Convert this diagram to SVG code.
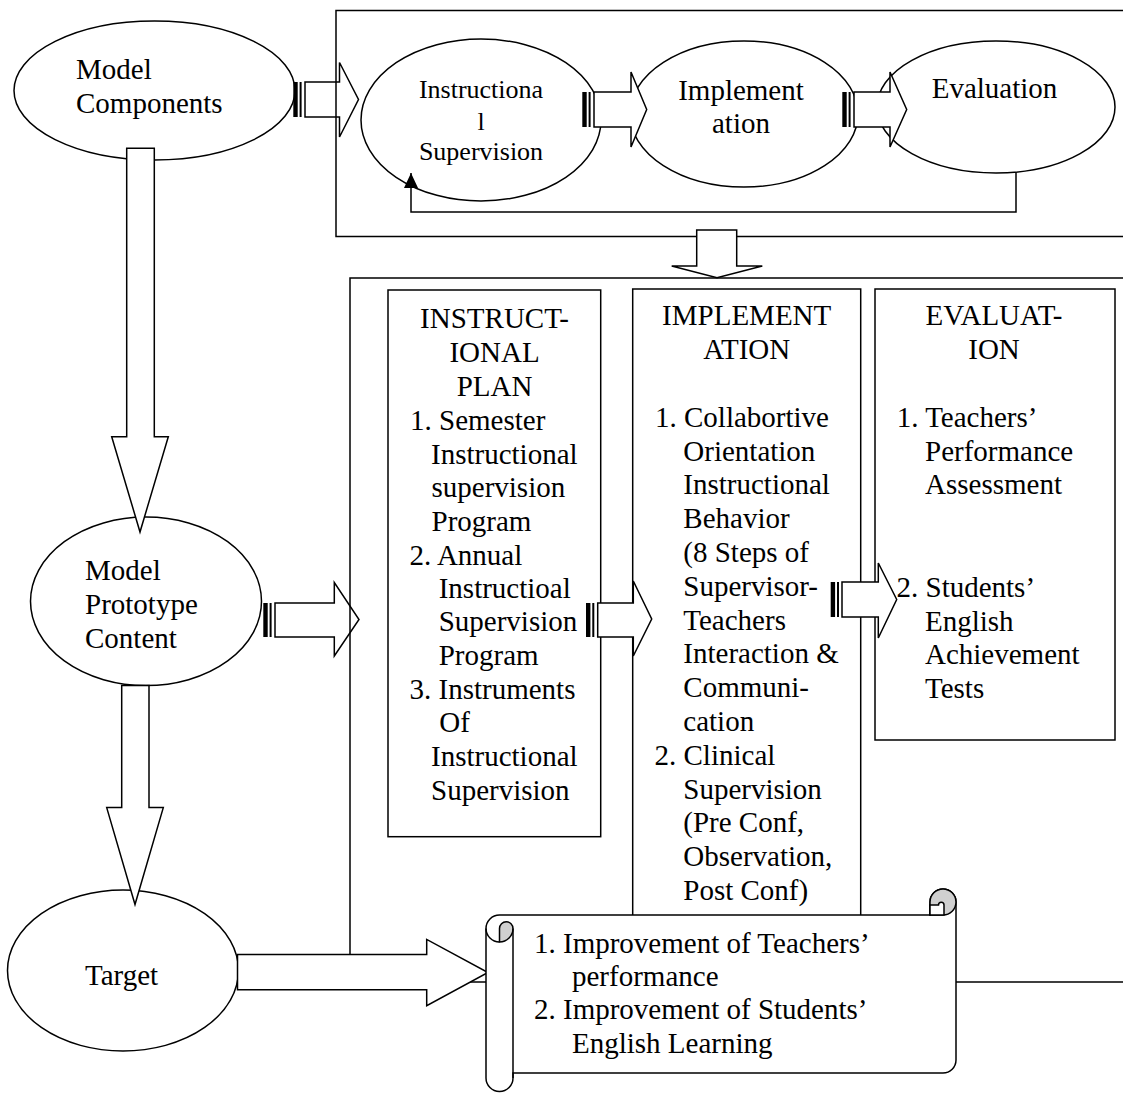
<svg xmlns="http://www.w3.org/2000/svg" width="1123" height="1094" viewBox="0 0 1123 1094">
<defs>
<style>
.shape{fill:#fff;stroke:#000;stroke-width:1.5}
.line{fill:none;stroke:#000;stroke-width:1.5}
.arrow{fill:#fff;stroke:#000;stroke-width:1.5;stroke-linejoin:miter}
.arrow-open{fill:none;stroke:#000;stroke-width:1.5;stroke-linejoin:miter}
.stripe{fill:#000}
.curl{fill:#d0d0d0;stroke:#000;stroke-width:1.5}
.t{font-family:"Liberation Serif","Times New Roman",serif;font-size:29px;fill:#000}
.ts{font-size:26px}
.c{text-anchor:middle}
</style>
<marker id="tri" viewBox="0 0 15 14" refX="15" refY="7" markerWidth="15" markerHeight="14" markerUnits="userSpaceOnUse" orient="auto">
<path d="M0,0 L15,7 L0,14 Z" fill="#000"/>
</marker>
</defs>
<rect x="0" y="0" width="1123" height="1094" fill="#fff"/>

<g id="frames">
<path class="line" d="M1130,10.5 H336 V236.5 H1130"/>
<path class="line" d="M1130,278 H350 V982 H1130"/>
</g>

<g id="box-instructional-plan">
<rect class="shape" x="388" y="290" width="212.7" height="546.7"/>
<g class="t">
<text class="c" x="494.5" y="328">INSTRUCT-</text>
<text class="c" x="494.5" y="362">IONAL</text>
<text class="c" x="494.5" y="396">PLAN</text>
<text x="410" y="430">1. Semester</text>
<text x="431" y="463.5">Instructional</text>
<text x="431.5" y="497">supervision</text>
<text x="431.5" y="530.5">Program</text>
<text x="409.5" y="564.5">2. Annual</text>
<text x="438.7" y="598">Instructioal</text>
<text x="438.7" y="631">Supervision</text>
<text x="438.7" y="664.5">Program</text>
<text x="409.5" y="698.5">3. Instruments</text>
<text x="439.3" y="732">Of</text>
<text x="431" y="766">Instructional</text>
<text x="431" y="799.5">Supervision</text>
</g>
</g>

<g id="box-implementation">
<rect class="shape" x="632.7" y="289" width="228" height="700"/>
<g class="t">
<text class="c" x="746.7" y="325">IMPLEMENT</text>
<text class="c" x="746.7" y="359">ATION</text>
<text x="655" y="426.7">1. Collabortive</text>
<text x="683.3" y="460.5">Orientation</text>
<text x="683.3" y="494.3">Instructional</text>
<text x="683.3" y="528.1">Behavior</text>
<text x="683.3" y="561.9">(8 Steps of</text>
<text x="683.3" y="595.7">Supervisor-</text>
<text x="683.3" y="629.5">Teachers</text>
<text x="683.3" y="663.3">Interaction &amp;</text>
<text x="683.3" y="697.1">Communi-</text>
<text x="683.3" y="730.9">cation</text>
<text x="654.5" y="764.7">2. Clinical</text>
<text x="683.3" y="798.5">Supervision</text>
<text x="683.3" y="832.3">(Pre Conf,</text>
<text x="683.3" y="866.1">Observation,</text>
<text x="683.3" y="899.9">Post Conf)</text>
</g>
</g>

<g id="box-evaluation">
<rect class="shape" x="875" y="289" width="240" height="451"/>
<g class="t">
<text class="c" x="994" y="325">EVALUAT-</text>
<text class="c" x="994" y="359">ION</text>
<text x="896.7" y="426.7">1. Teachers’</text>
<text x="925" y="460.5">Performance</text>
<text x="925" y="494.3">Assessment</text>
<text x="896.5" y="596.7">2. Students’</text>
<text x="925" y="630.5">English</text>
<text x="925" y="663.5">Achievement</text>
<text x="925" y="697.5">Tests</text>
</g>
</g>

<g id="node-model-components">
<ellipse class="shape" cx="154.5" cy="90.5" rx="140.5" ry="69.5"/>
<text class="t" x="76" y="79">Model</text>
<text class="t" x="76" y="113">Components</text>
</g>

<g id="node-instructional-supervision">
<ellipse class="shape" cx="481" cy="120" rx="120" ry="81"/>
<text class="t ts c" x="481" y="98">Instructiona</text>
<text class="t ts c" x="481" y="130">l</text>
<text class="t ts c" x="481" y="160">Supervision</text>
</g>

<g id="node-implementation">
<ellipse class="shape" cx="744" cy="114" rx="114" ry="73"/>
<text class="t c" x="741" y="100">Implement</text>
<text class="t c" x="741" y="133">ation</text>
</g>

<g id="node-evaluation">
<ellipse class="shape" cx="996" cy="107" rx="119" ry="66"/>
<text class="t c" x="994.5" y="98">Evaluation</text>
</g>

<g id="node-model-prototype-content">
<ellipse class="shape" cx="146" cy="601.3" rx="115.5" ry="84.3"/>
<text class="t" x="85" y="579.5">Model</text>
<text class="t" x="85" y="613.6">Prototype</text>
<text class="t" x="85" y="647.7">Content</text>
</g>

<g id="node-target">
<ellipse class="shape" cx="123" cy="970.5" rx="115.5" ry="80.5"/>
<text class="t" x="85" y="985">Target</text>
</g>

<g id="connectors">
<!-- Model Components -> Instructional Supervision (striped) -->
<rect class="stripe" x="293.3" y="82" width="4.4" height="35"/>
<rect class="stripe" x="299.6" y="82" width="2" height="35"/>
<polygon class="arrow-open" points="305,82 339.5,82 339.5,62.5 358.5,99.5 339.5,137 339.5,117 305,117"/>
<!-- Instructional Supervision -> Implementation (striped) -->
<rect class="stripe" x="582.3" y="92" width="4.4" height="35"/>
<rect class="stripe" x="588.6" y="92" width="2" height="35"/>
<polygon class="arrow" points="594,92 631,92 631,72 646.7,109.5 631,147 631,127 594,127"/>
<!-- Implementation -> Evaluation (striped) -->
<rect class="stripe" x="842.3" y="92" width="4.4" height="35"/>
<rect class="stripe" x="848.6" y="92" width="2" height="35"/>
<polygon class="arrow" points="854,92 890,92 890,72 906.7,109.5 890,147 890,127 854,127"/>
<!-- feedback Evaluation -> Instructional Supervision -->
<path class="line" d="M1016,172 V212 H411 V173" marker-end="url(#tri)"/>
<!-- frame to frame down arrow -->
<polygon class="arrow" points="696.7,230 736.7,230 736.7,266 762.3,266 717,277.7 671.7,266 696.7,266"/>
<!-- Model Components -> Model Prototype Content -->
<polygon class="arrow" points="126.7,148.3 154.3,148.3 154.3,436.7 168.3,436.7 140,532 111.7,436.7 126.7,436.7"/>
<!-- Model Prototype Content -> Target -->
<polygon class="arrow" points="121.7,685.6 149,685.6 149,807.6 163.3,807.6 135,904.5 106.7,807.6 121.7,807.6"/>
<!-- Model Prototype Content -> content frame (striped) -->
<rect class="stripe" x="263.3" y="603" width="4.4" height="34"/>
<rect class="stripe" x="269.6" y="603" width="2" height="34"/>
<polygon class="arrow-open" points="275,603 334.3,603 334.3,582.5 359,619.5 334.3,656 334.3,637 275,637"/>
<!-- Instructional Plan -> Implementation (striped) -->
<rect class="stripe" x="586" y="603" width="4.4" height="34"/>
<rect class="stripe" x="592.3" y="603" width="2" height="34"/>
<polygon class="arrow" points="597.7,603 633.3,603 633.3,581 651.7,619 633.3,656 633.3,637 597.7,637"/>
<!-- Implementation -> Evaluation (striped) -->
<rect class="stripe" x="830.7" y="582" width="4.4" height="35"/>
<rect class="stripe" x="837" y="582" width="2" height="35"/>
<polygon class="arrow" points="842,582 878.3,582 878.3,563 896.7,599.5 878.3,638 878.3,617 842,617"/>
<!-- Target -> outcomes scroll -->
<polygon class="arrow" points="237.5,954.5 426.7,954.5 426.7,939.4 488,972.5 426.7,1005.7 426.7,989.8 237.5,989.8"/>
</g>

<g id="node-outcomes-scroll">
<path class="shape" d="M513,1073 L943,1073 A13,13 0 0 0 956,1060 L956,902 A13,13 0 0 0 943,889 A13,13 0 0 0 930,902 L930,915 L499.5,915 A13.5,13.5 0 0 0 486,928.5 L486,1078 A13.5,13.5 0 0 0 513,1078 Z"/>
<path class="curl" d="M956,902 A13,13 0 0 0 943,889 A13,13 0 0 0 930,902 L930,915 L943,915 A13,13 0 0 0 956,902 Z"/>
<path class="shape" d="M930,905 L938.5,905 A2.7,2.7 0 0 1 944,905 L944,915 L930,915 Z"/>
<path class="line" d="M486,928.5 A13.5,13.5 0 0 0 499.5,942"/>
<path class="curl" d="M499.5,942 A13.5,13.5 0 0 0 513,928.5 A6.75,6.75 0 0 0 499.5,928.5 Z"/>
<path class="line" d="M513,928.5 L513,1078"/>
<g class="t">
<text x="534" y="952.7">1. Improvement of Teachers’</text>
<text x="572" y="986">performance</text>
<text x="534" y="1019.3">2. Improvement of Students’</text>
<text x="572" y="1053.3">English Learning</text>
</g>
</g>
</svg>
